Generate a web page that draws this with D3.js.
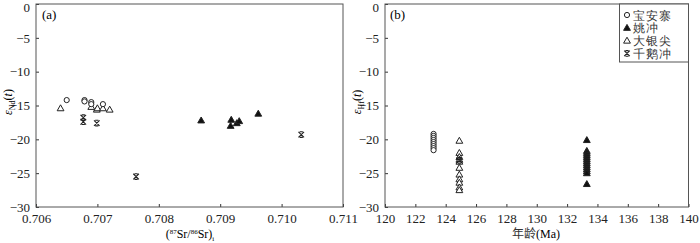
<!DOCTYPE html>
<html>
<head>
<meta charset="utf-8">
<script src="https://cdn.jsdelivr.net/npm/d3@7"></script>
<style>
  body { margin: 0; background: #fff; }
  svg text { font-family: "Liberation Serif", "DejaVu Serif", serif; }
</style>
</head>
<body>
<svg id="chart"></svg>
<script>
// series names
const groups = ["宝安寨", "姚冲", "大银尖", "千鹅冲"];

// panel (a): (87Sr/86Sr)i vs eNd(t)
const baoanSr = [0.70650, 0.70679, 0.70679, 0.70690, 0.70690, 0.70709];
const baoanNd = [-14.2, -14.2, -14.4, -14.5, -14.8, -14.8];
const yaoSr = [0.70869, 0.70918, 0.70917, 0.70927, 0.70931, 0.70962];
const yaoNd = [-17.2, -17.1, -18.0, -17.6, -17.3, -16.2];
const dayinSr = [0.70640, 0.70690, 0.70699, 0.70700, 0.70709, 0.70720];
const dayinNd = [-15.4, -15.2, -15.6, -15.4, -15.4, -15.6];
const qianSr = [0.70677, 0.70677, 0.70699, 0.70763, 0.71032];
const qianNd = [-16.8, -17.4, -17.6, -25.5, -19.3];

// panel (b): age vs eHf(t)
const baoanAge = 123.2;
const baoanHf = [-19.2, -19.5, -19.8, -20.1, -20.4, -20.7, -21.0, -21.3, -21.6];
const yaoAge = 133.3;
const yaoHf = [-20.1, -21.7, -22.0, -22.3, -22.6, -22.9, -23.2, -23.5, -23.8, -24.1, -24.4, -24.7, -25.0, -26.6];
const dayinAge = 124.9;
const dayinHf = [-20.2, -22.0, -22.6, -23.0, -23.3, -24.2, -25.2, -25.9, -26.4, -27.1, -27.5];
const qianAge = 124.9;
const qianHf = [-23.1];

const yTicks = [0, -5, -10, -15, -20, -25, -30];
const srTicks = [0.706, 0.707, 0.708, 0.709, 0.710, 0.711];
const ageTicks = [120, 122, 124, 126, 128, 130, 132, 134, 136, 138, 140];

const W = 700, H = 243;
const svg = d3.select("#chart").attr("width", W).attr("height", H);

const plotTop = 4, plotBottom = 207;
const fmtMinus = d => d < 0 ? "\u2212" + Math.abs(d) : String(d);

// marker drawing
function marker(g, kind, x, y) {
  if (kind === 0) {
    g.append("circle").attr("cx", x).attr("cy", y).attr("r", 2.6)
      .attr("fill", "#fff").attr("stroke", "#222").attr("stroke-width", 1);
  } else if (kind === 1 || kind === 2) {
    const s = 3.4;
    g.append("path")
      .attr("d", `M${x},${y - s}L${x + s},${y + s * 0.75}L${x - s},${y + s * 0.75}Z`)
      .attr("fill", kind === 1 ? "#111" : "#fff")
      .attr("stroke", "#222").attr("stroke-width", 1);
  } else {
    const s = 2.8, b = 1.6;
    g.append("path")
      .attr("d", `M${x - s},${y - s}L${x + s},${y + s}M${x + s},${y - s}L${x - s},${y + s}` +
                 `M${x - b},${y - s}L${x + b},${y - s}M${x - b},${y + s}L${x + b},${y + s}`)
      .attr("fill", "none").attr("stroke", "#222").attr("stroke-width", 1.1);
  }
}

function panel(left, right, xDomain, xTicks, xFmt) {
  const xScale = d3.scaleLinear().domain(xDomain).range([left, right]);
  const yScale = d3.scaleLinear().domain([-30, 0]).range([plotBottom, plotTop]);
  const g = svg.append("g");

  const xAxis = d3.axisBottom(xScale).tickValues(xTicks).tickFormat(xFmt)
    .tickSizeInner(-3).tickSizeOuter(0).tickPadding(7);
  const yAxis = d3.axisLeft(yScale).tickValues(yTicks).tickFormat(fmtMinus)
    .tickSizeInner(-3).tickSizeOuter(0).tickPadding(6);

  const xg = g.append("g").attr("transform", `translate(0,${plotBottom})`).call(xAxis);
  const yg = g.append("g").attr("transform", `translate(${left},0)`).call(yAxis);
  [xg, yg].forEach(a => {
    a.select(".domain").remove();
    a.selectAll("line").attr("stroke", "#333");
    a.selectAll("text").attr("font-family", "Liberation Serif, serif")
      .attr("font-size", 13).attr("fill", "#222");
  });
  // keep the top "0" label inside the picture
  yg.selectAll(".tick").filter(d => d === 0).select("text").attr("dy", "0.55em");

  g.append("rect").attr("x", left).attr("y", plotTop)
    .attr("width", right - left).attr("height", plotBottom - plotTop)
    .attr("fill", "none").attr("stroke", "#555").attr("stroke-width", 1);

  return { g, xScale, yScale };
}

// ---- panel (a)
const pa = panel(36, 343, [0.706, 0.711], srTicks, d3.format(".3f"));
dayinSr.forEach((v, i) => marker(pa.g, 2, pa.xScale(v), pa.yScale(dayinNd[i])));
baoanSr.forEach((v, i) => marker(pa.g, 0, pa.xScale(v), pa.yScale(baoanNd[i])));
yaoSr.forEach((v, i) => marker(pa.g, 1, pa.xScale(v), pa.yScale(yaoNd[i])));
qianSr.forEach((v, i) => marker(pa.g, 3, pa.xScale(v), pa.yScale(qianNd[i])));

pa.g.append("text").attr("x", 42).attr("y", 19).attr("font-size", 13).text("(a)");

// y label eNd(t)
const ya = pa.g.append("text").attr("transform", "translate(12,102) rotate(-90)")
  .attr("text-anchor", "middle").attr("font-size", 12);
ya.append("tspan").attr("font-style", "italic").text("ε");
ya.append("tspan").attr("font-size", 8).attr("dy", 3).text("Nd");
ya.append("tspan").attr("dy", -3).text("(");
ya.append("tspan").attr("font-style", "italic").text("t");
ya.append("tspan").text(")");

// x label (87Sr/86Sr)i
const xa = pa.g.append("text").attr("x", 190).attr("y", 238)
  .attr("text-anchor", "middle").attr("font-size", 12);
xa.append("tspan").text("(");
xa.append("tspan").attr("font-size", 7).attr("dy", -4).text("87");
xa.append("tspan").attr("dy", 4).text("Sr/");
xa.append("tspan").attr("font-size", 7).attr("dy", -4).text("86");
xa.append("tspan").attr("dy", 4).text("Sr)");
xa.append("tspan").attr("font-size", 7).attr("dy", 3).text("i");

// ---- panel (b)
const pb = panel(385, 688.5, [120, 140], ageTicks, d3.format("d"));
baoanHf.forEach(v => marker(pb.g, 0, pb.xScale(baoanAge), pb.yScale(v)));
dayinHf.forEach(v => marker(pb.g, 2, pb.xScale(dayinAge), pb.yScale(v)));
qianHf.forEach(v => marker(pb.g, 3, pb.xScale(qianAge), pb.yScale(v)));
yaoHf.forEach(v => marker(pb.g, 1, pb.xScale(yaoAge), pb.yScale(v)));

pb.g.append("text").attr("x", 390).attr("y", 19).attr("font-size", 13).text("(b)");

const yb = pb.g.append("text").attr("transform", "translate(361,102) rotate(-90)")
  .attr("text-anchor", "middle").attr("font-size", 12);
yb.append("tspan").attr("font-style", "italic").text("ε");
yb.append("tspan").attr("font-size", 8).attr("dy", 3).text("Hf");
yb.append("tspan").attr("dy", -3).text("(");
yb.append("tspan").attr("font-style", "italic").text("t");
yb.append("tspan").text(")");

const xb = pb.g.append("text").attr("x", 536).attr("y", 238)
  .attr("text-anchor", "middle").attr("font-size", 12);
xb.append("tspan").attr("font-family", "Noto Sans CJK SC").attr("fill", "#333").text("年龄");
xb.append("tspan").text("(Ma)");

// legend
const lg = pb.g.append("g");
lg.append("rect").attr("x", 619.5).attr("y", 4).attr("width", 69).attr("height", 58)
  .attr("fill", "#fff").attr("stroke", "#555").attr("stroke-width", 1);
groups.forEach((name, i) => {
  const cy = 15 + i * 12.8;
  marker(lg, i, 627, cy);
  lg.append("text").attr("x", 633).attr("y", cy + 4.5)
    .attr("font-family", "Noto Sans CJK SC").attr("font-size", 12)
    .attr("fill", "#333").attr("letter-spacing", 1).text(name);
});
</script>
</body>
</html>
